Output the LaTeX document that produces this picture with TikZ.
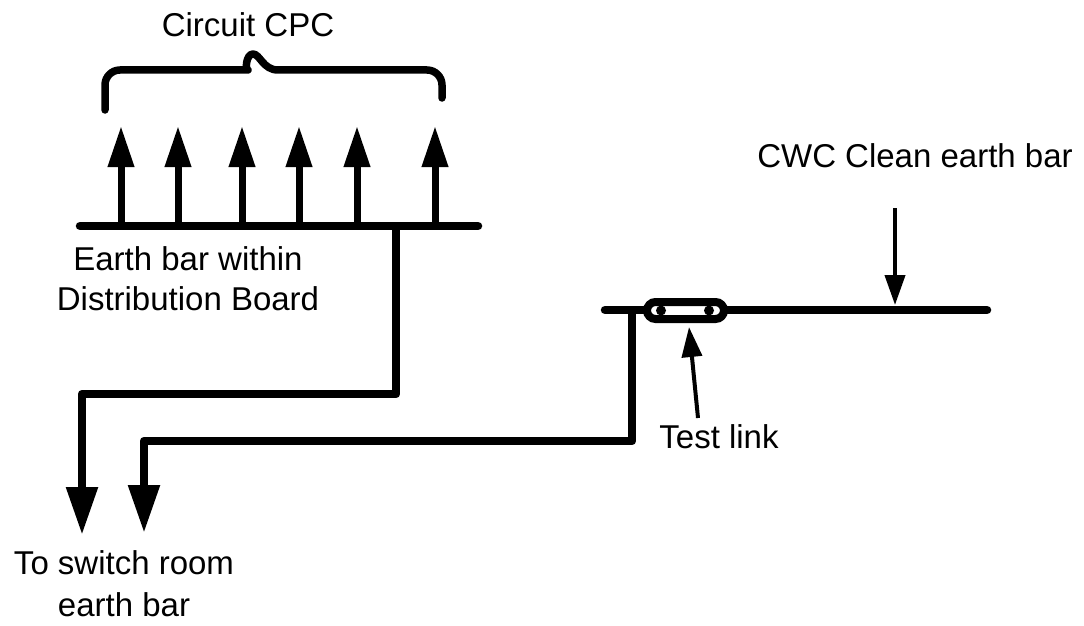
\documentclass[tikz,border=0pt]{standalone}
\usepackage{fontspec}
\setmainfont{Liberation Sans}
\usetikzlibrary{arrows.meta}
\begin{document}
\begin{tikzpicture}[x=1pt,y=-1pt,
  bar/.style={line width=8.5pt, line cap=round, line join=round},
  cpcarrow/.style={line width=7pt, -{Triangle[length=41pt,width=25pt]}},
  bigdown/.style={line width=8.5pt, line join=round, -{Triangle[length=48pt,width=30pt]}},
  thinarrow/.style={line width=4pt, -{Triangle[length=30pt,width=20pt]}},
  lbl/.style={font=\fontsize{33}{40}\selectfont, inner sep=0pt},
  linkbox/.style={draw, fill=white, line width=8pt, rounded corners=8.5pt,
    minimum width=77pt, minimum height=17pt, inner sep=0pt},
  dot/.style={circle, fill=black, minimum size=10pt, inner sep=0pt},
]
\useasboundingbox (0,0) rectangle (1084,626);

% distribution board earth bar
\coordinate (dbL) at (80,226);
\coordinate (dbR) at (478,226);
\draw[bar] (dbL) -- (dbR);

% circuit CPC arrows
\foreach \i/\x in {1/121,2/178,3/242,4/299,5/357,6/435}{
  \coordinate (c\i b) at (\x,226);
  \coordinate (c\i t) at (\x,126);
  \draw[cpcarrow] (c\i b) -- (c\i t);
}

% brace
\coordinate (brL) at (105,110);
\coordinate (brR) at (442,98);
\draw[line width=7.5pt, line cap=round, line join=round, rounded corners=15pt]
  (brL) -- (105,70) -- (233,70) [sharp corners]
  .. controls (245,70) and (246,54) .. (253,54)
  .. controls (260,54) and (263,70) .. (278,70) [rounded corners=15pt]
  -- (442,70) -- (brR);

% wire 1 from DB bar
\coordinate (w1a) at (396,226);
\coordinate (w1b) at (396,394);
\coordinate (w1c) at (82,394);
\coordinate (w1d) at (82,535);
\draw[bigdown] (w1a) -- (w1b) -- (w1c) -- (w1d);

% clean earth bar
\coordinate (ceL) at (605,310);
\coordinate (ceR) at (987,310);
\draw[bar] (ceL) -- (ceR);

% wire 2 from clean earth bar
\coordinate (w2a) at (632,310);
\coordinate (w2b) at (632,441);
\coordinate (w2c) at (144,441);
\coordinate (w2d) at (144,533);
\draw[bigdown] (w2a) -- (w2b) -- (w2c) -- (w2d);

% test link
\node[linkbox] (link) at (685.5,310.5) {};
\node[dot] (d1) at (661,310.5) {};
\node[dot] (d2) at (709,310.5) {};

% labels
\node[lbl, anchor=base] (cpc) at (248,37) {Circuit CPC};
\node[lbl, anchor=base] (cwc) at (915,167) {CWC Clean earth bar};
\node[lbl, anchor=north, align=center] (dbtxt) at (188,246) {Earth bar within\\Distribution Board};
\node[lbl, anchor=north, align=center, font=\fontsize{33}{42}\selectfont] (sw) at (124,550) {To switch room\\earth bar};
\node[lbl, anchor=base] (tl) at (719,448) {Test link};

% thin arrows
\coordinate (cwcA) at (895,208);
\coordinate (cwcB) at (895,305);
\draw[thinarrow] (cwcA) -- (cwcB);
\coordinate (tlA) at (698,418);
\coordinate (tlB) at (689,327);
\draw[thinarrow] (tlA) -- (tlB);
\end{tikzpicture}
\end{document}
